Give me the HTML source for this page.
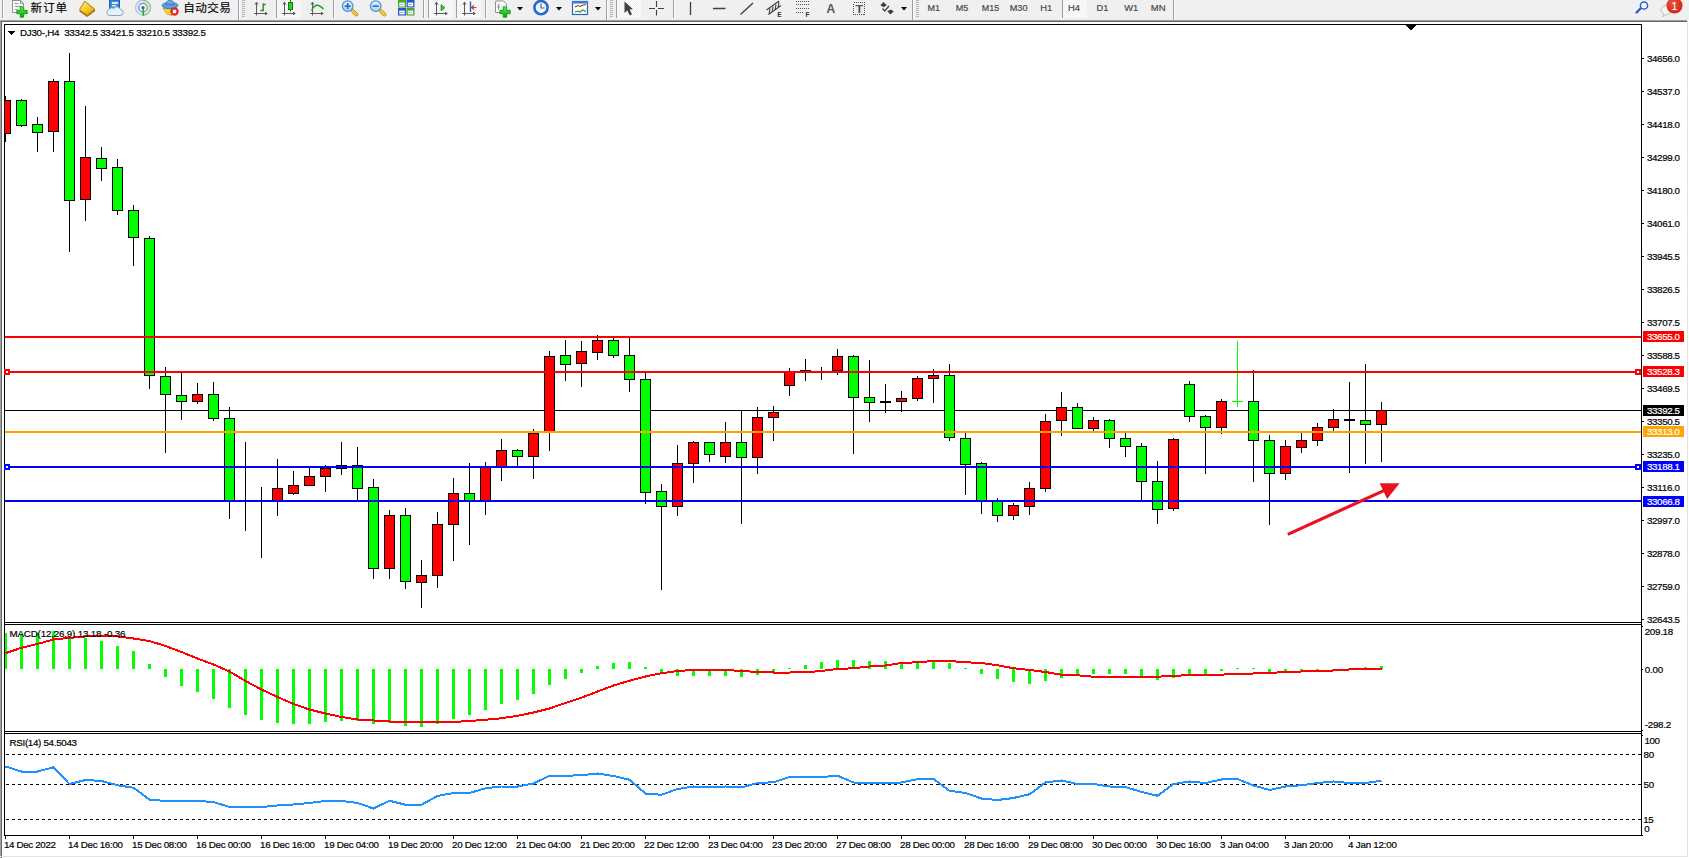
<!DOCTYPE html>
<html><head><meta charset="utf-8"><title>DJ30-,H4</title>
<style>
html,body{margin:0;padding:0;background:#fff;overflow:hidden}
svg{display:block;font-family:"Liberation Sans","Noto Sans CJK SC",sans-serif}
text{white-space:pre}
</style></head><body>
<svg width="1689" height="858" viewBox="0 0 1689 858">
<rect width="1689" height="858" fill="#fff"/>
<rect width="1689" height="20" fill="#F0F0F0"/>
<g id="toolbar">
<defs>
<pattern id="chk" width="2" height="2" patternUnits="userSpaceOnUse"><rect width="2" height="2" fill="#F0F0F0"/><rect width="1" height="1" fill="#fff"/><rect x="1" y="1" width="1" height="1" fill="#fff"/></pattern>
<linearGradient id="gplus" x1="0" y1="0" x2="0" y2="1"><stop offset="0" stop-color="#5CF05C"/><stop offset="1" stop-color="#00A800"/></linearGradient>
<linearGradient id="gold" x1="0" y1="0" x2="1" y2="1"><stop offset="0" stop-color="#FFF090"/><stop offset="0.55" stop-color="#F4C820"/><stop offset="1" stop-color="#D09000"/></linearGradient>
<radialGradient id="redb" cx="0.4" cy="0.35" r="0.8"><stop offset="0" stop-color="#F0503C"/><stop offset="1" stop-color="#C81E14"/></radialGradient>
<linearGradient id="lens" x1="0" y1="0" x2="0" y2="1"><stop offset="0" stop-color="#E8F4FF"/><stop offset="1" stop-color="#A8D0F4"/></linearGradient>
</defs>
<!-- left separator -->
<rect x="2" y="0" width="1" height="18" fill="#A0A0A0"/><rect x="3" y="0" width="1" height="18" fill="#FBFBFB"/>
<!-- new order -->
<path d="M12.5 0V12.5H20M23.5 6V3.5L20.5 0.5H12.5M20.5 0.5V3.5H23.5" fill="#fff" stroke="#909090"/>
<path d="M14.5 3.5h4M14.5 6.5h6M14.5 9.5h3" stroke="#A0A0A0"/>
<path d="M20.3 6.8h3.4v3.5h3.5v3.4h-3.5v3.5h-3.4v-3.5h-3.5v-3.4h3.5z" fill="url(#gplus)" stroke="#009000" stroke-width="0.8"/>
<text x="30.6" y="11.6" font-size="11.6" fill="#000" stroke="#000" stroke-width="0.15" textLength="36.5" lengthAdjust="spacing">新订单</text>
<!-- gold book -->
<path d="M79.5 9.8C81 7 83 4 84.8 1.3L95 9.4L87.2 15.2z" fill="url(#gold)" stroke="#B07800" stroke-width="1"/>
<path d="M79.6 10.8L87 16.3L95 10.6" fill="none" stroke="#A86E00" stroke-width="1.2"/>
<!-- server + cloud -->
<rect x="109.500" y="0" width="10" height="9" fill="#3C8CE0" stroke="#1C5CB0"/>
<rect x="112" y="2" width="6" height="2" fill="#D8ECFF"/><rect x="112" y="5" width="4" height="1.500" fill="#D8ECFF"/>
<path d="M109 15.500h11a3 3 0 0 0 0.500-6a4 4 0 0 0-7-1a3 3 0 0 0-4.500 1a3.200 3.200 0 0 0 0 6z" fill="#E8F0FA" stroke="#7C9CC8" stroke-width="0.9"/>
<!-- signal -->
<path d="M143 0.3A7.4 7.4 0 0 0 143 15.100" fill="none" stroke="#A8C0E8" stroke-width="1.200"/>
<path d="M143 3.300A4.400 4.400 0 0 0 143 12.100" fill="none" stroke="#6C90D8" stroke-width="1.300"/>
<path d="M143 0.3A7.4 7.4 0 0 1 143 15.100" fill="none" stroke="#90C098" stroke-width="1.400"/>
<path d="M143 3.300A4.400 4.400 0 0 1 143 12.100" fill="none" stroke="#78B080" stroke-width="1.400"/>
<path d="M143.300 7.500V15.600" fill="none" stroke="#28A828" stroke-width="1.700"/>
<circle cx="143" cy="7.500" r="1.600" fill="#3060D0"/>
<!-- expert hat -->
<path d="M163 8.500L167 14L171.500 15.500L177 9z" fill="#F4D048" stroke="#C09820" stroke-width="0.8"/>
<ellipse cx="170" cy="5.500" rx="8" ry="3.200" fill="#5C9CE0" stroke="#3870B8" stroke-width="0.8"/>
<path d="M166 4.500a4 4.500 0 0 1 8 0z" fill="#6CA8E8" stroke="#3870B8" stroke-width="0.8"/>
<circle cx="174.500" cy="11.500" r="4.200" fill="#E02818"/>
<rect x="172.800" y="9.800" width="3.400" height="3.400" fill="#fff"/>
<text x="183.3" y="11.6" font-size="11.6" fill="#000" stroke="#000" stroke-width="0.15" textLength="47.5" lengthAdjust="spacing">自动交易</text>
<!-- separator + grip -->
<g shape-rendering="crispEdges">
<rect x="238" y="0" width="1" height="20" fill="#A0A0A0"/><rect x="239" y="0" width="1" height="20" fill="#FBFBFB"/>
<path d="M242 0.500h3M242 2.500h3M242 4.500h3M242 6.500h3M242 8.500h3M242 10.500h3M242 12.500h3M242 14.500h3M242 16.500h3" stroke="#B4B4B4"/>
<rect x="276" y="0" width="1" height="18" fill="#A0A0A0"/>
<rect x="277" y="0" width="24" height="18" fill="url(#chk)"/>
<rect x="333" y="0" width="1" height="18" fill="#A0A0A0"/><rect x="334" y="0" width="1" height="18" fill="#FBFBFB"/>
<rect x="423" y="0" width="1" height="18" fill="#A0A0A0"/><rect x="424" y="0" width="1" height="18" fill="#FBFBFB"/>
<rect x="428" y="0" width="1" height="18" fill="#A0A0A0"/><rect x="429" y="0" width="24" height="18" fill="url(#chk)"/>
<rect x="456" y="0" width="1" height="18" fill="#A0A0A0"/><rect x="457" y="0" width="24" height="18" fill="url(#chk)"/>
<rect x="485" y="0" width="1" height="18" fill="#A0A0A0"/><rect x="486" y="0" width="1" height="18" fill="#FBFBFB"/>
<rect x="606" y="0" width="1" height="20" fill="#A0A0A0"/><rect x="607" y="0" width="1" height="20" fill="#FBFBFB"/>
<path d="M610 0.500h3M610 2.500h3M610 4.500h3M610 6.500h3M610 8.500h3M610 10.500h3M610 12.500h3M610 14.500h3M610 16.500h3" stroke="#B4B4B4"/>
<rect x="616" y="0" width="1" height="18" fill="#A0A0A0"/><rect x="617" y="0" width="24" height="18" fill="url(#chk)"/>
<rect x="673" y="0" width="1" height="18" fill="#A0A0A0"/><rect x="674" y="0" width="1" height="18" fill="#FBFBFB"/>
<rect x="912" y="0" width="1" height="20" fill="#A0A0A0"/><rect x="913" y="0" width="1" height="20" fill="#FBFBFB"/>
<path d="M916 0.500h3M916 2.500h3M916 4.500h3M916 6.500h3M916 8.500h3M916 10.500h3M916 12.500h3M916 14.500h3M916 16.500h3" stroke="#B4B4B4"/>
<rect x="1062" y="0" width="1" height="18" fill="#A0A0A0"/><rect x="1063" y="0" width="24" height="18" fill="url(#chk)"/>
<rect x="1173" y="0" width="1" height="20" fill="#A0A0A0"/><rect x="1174" y="0" width="1" height="20" fill="#FBFBFB"/>
</g>
<!-- chart type icons: axes -->
<g stroke="#5A5A5A" stroke-width="1" fill="none">
<path d="M256.5 2V15.5M254 13.5H267M255 4.6L256.5 2.2L258 4.6M265 12.2L267.3 13.5L265 14.8"/>
<path d="M284.5 2V15.5M282 13.5H295M283 4.6L284.5 2.2L286 4.6M293 12.2L295.3 13.5L293 14.8"/>
<path d="M312.5 2V15.5M310 13.5H323M311 4.6L312.5 2.2L314 4.6M321 12.2L323.3 13.5L321 14.8"/>
<path d="M436.5 2V15.5M434 13.5H447M435 4.6L436.5 2.2L438 4.6M445 12.2L447.3 13.5L445 14.8"/>
<path d="M464.5 2V15.5M462 13.5H475M463 4.6L464.5 2.2L466 4.6M473 12.2L475.3 13.5L473 14.8"/>
</g>
<path d="M260.500 10.500h2.500M263.200 3.300v8M263 4.500h2.700" fill="none" stroke="#209020" stroke-width="1.400"/>
<rect x="288.500" y="2.500" width="4" height="7" fill="#30D030" stroke="#108010"/><path d="M290.500 0V2.500M290.500 9.500V11.500" stroke="#108010"/>
<path d="M311.500 10.500C315 4 318 3.500 323.500 9" fill="none" stroke="#20A020" stroke-width="1.400"/>
<path d="M441 4.500l4 3.200l-4 3.200z" fill="#30C030" stroke="#108010" stroke-width="0.600"/>
<path d="M470.500 1.500V12" stroke="#2060C0" stroke-width="1.400"/><path d="M476.500 7.500h-4.500M474 5.500l-2.500 2l2.500 2" stroke="#D04010" stroke-width="1.200" fill="none"/>
<!-- zoom in/out -->
<path d="M352.300 10.600L356.600 14.600" stroke="#B08818" stroke-width="3.600" stroke-linecap="round"/>
<path d="M352.300 10.600L356.600 14.600" stroke="#F0D040" stroke-width="2.200" stroke-linecap="round"/>
<circle cx="347.700" cy="6.100" r="5.300" fill="url(#lens)" stroke="#4C90D8" stroke-width="1.300"/>
<path d="M344.700 6.100h6M347.700 3.100v6" stroke="#2C6CC0" stroke-width="1.600"/>
<path d="M380.300 10.600L384.600 14.600" stroke="#B08818" stroke-width="3.600" stroke-linecap="round"/>
<path d="M380.300 10.600L384.600 14.600" stroke="#F0D040" stroke-width="2.200" stroke-linecap="round"/>
<circle cx="375.700" cy="6.100" r="5.300" fill="url(#lens)" stroke="#4C90D8" stroke-width="1.300"/>
<path d="M372.700 6.100h6" stroke="#2C6CC0" stroke-width="1.600"/>
<!-- tile icon -->
<rect x="398" y="0" width="8" height="7.500" fill="#48A828"/><rect x="406.500" y="0" width="8" height="7.500" fill="#2858C8"/>
<rect x="398" y="8" width="8" height="7.500" fill="#2858C8"/><rect x="406.500" y="8" width="8" height="7.500" fill="#48A828"/>
<g fill="#fff"><rect x="399.300" y="2.600" width="5.400" height="3.800"/><rect x="407.800" y="2.600" width="5.400" height="3.800"/><rect x="399.300" y="10.600" width="5.400" height="3.800"/><rect x="407.800" y="10.600" width="5.400" height="3.800"/></g><g fill="#8CB8E8"><rect x="400.300" y="4" width="3.400" height="1"/><rect x="408.800" y="4" width="3.400" height="1"/><rect x="400.300" y="12" width="3.400" height="1"/><rect x="408.800" y="12" width="3.400" height="1"/></g>
<!-- new chart w/ plus -->
<path d="M495.500 1.500V12.500H503M506.500 6V4L503.500 1H495.500" fill="#fff" stroke="#909090"/>
<path d="M498.500 4v6M497 7h3" stroke="#808080" stroke-width="0.800"/>
<path d="M503.3 6.8h3.4v3.5h3.5v3.4h-3.5v3.5h-3.4v-3.5h-3.5v-3.4h3.5z" fill="url(#gplus)" stroke="#009000" stroke-width="0.8"/>
<path d="M517 7h6l-3 3.500z" fill="#000"/>
<!-- clock -->
<circle cx="541" cy="7.600" r="6.600" fill="#EEF4FF" stroke="#2468D0" stroke-width="2.600"/>
<path d="M541 3.500V8H544.500" fill="none" stroke="#606060" stroke-width="1.200"/>
<path d="M556 7h6l-3 3.500z" fill="#000"/>
<!-- template -->
<rect x="572.500" y="1.500" width="15" height="13" fill="#fff" stroke="#2C64C0" stroke-width="1.200"/>
<rect x="572" y="1" width="16" height="2.500" fill="#3C78D8"/>
<path d="M575 7l3-1.500l2 1l3-1.500l3-0.500" fill="none" stroke="#B03818" stroke-width="1.100"/>
<path d="M575 12l3-1l2 1l3-2l3 1.500" fill="none" stroke="#209820" stroke-width="1.100"/>
<path d="M595 7h6l-3 3.500z" fill="#000"/>
<!-- cursor -->
<path d="M624.500 1.500V13L627.300 10.500L629.800 15.500L632 14.300L629.600 9.500L633 9.200z" fill="#404040"/>
<!-- crosshair -->
<path d="M656.500 1V7M656.500 10V15.500M649 8.500H655M658 8.500H664" stroke="#404040" stroke-width="1.100" fill="none"/>
<!-- lines -->
<path d="M690.500 2V15M713 8.500H725.500M740.500 14.500L753 3" stroke="#404040" stroke-width="1.300" fill="none"/>
<!-- channel -->
<path d="M766.500 10L779 1M768.500 14.500L781 5.500M770 8.500l-1 5.500M773 6.500l-1 5.500M776 4.500l-1 5.500M779 2l-1 5.500" stroke="#404040" stroke-width="1.100" fill="none"/>
<text x="777.300" y="16.600" font-size="6.500" font-weight="bold" fill="#303030">E</text>
<!-- fibo -->
<path d="M796 1.500H809M796 4.500H809M796 8.500H809M796 12.500H804" stroke="#505050" stroke-width="1" stroke-dasharray="1 1" fill="none"/>
<text x="805.500" y="16.600" font-size="6.500" font-weight="bold" fill="#303030">F</text>
<!-- A -->
<text x="826.600" y="13" font-size="12" font-weight="bold" fill="#555">A</text>
<!-- T box -->
<rect x="853.500" y="2.500" width="11" height="12" fill="none" stroke="#505050" stroke-width="1" stroke-dasharray="1 1" shape-rendering="crispEdges"/>
<text x="855.400" y="12.600" font-size="11" font-weight="bold" fill="#555" textLength="7.6" lengthAdjust="spacingAndGlyphs">T</text>
<!-- arrows -->
<path d="M880.300 5.300l3.300-3.300l3.300 3.300l-3.300 1.900zM887.200 11.300l3.300-1.900l3.300 1.900l-3.300 3.300z" fill="#404040"/>
<path d="M882.500 8.500l2.200 2.500l4.300-5" fill="none" stroke="#404040" stroke-width="1.300"/>
<path d="M901 7h6l-3 3.500z" fill="#000"/>
<!-- timeframes -->
<g font-size="9.800" fill="#484848" stroke="#484848" stroke-width="0.2">
<text x="927.500" y="11.300" textLength="12.500" lengthAdjust="spacingAndGlyphs">M1</text>
<text x="955.700" y="11.300" textLength="12.500" lengthAdjust="spacingAndGlyphs">M5</text>
<text x="981.700" y="11.300" textLength="17.500" lengthAdjust="spacingAndGlyphs">M15</text>
<text x="1009.700" y="11.300" textLength="17.800" lengthAdjust="spacingAndGlyphs">M30</text>
<text x="1040.300" y="11.300" textLength="12" lengthAdjust="spacingAndGlyphs">H1</text>
<text x="1068" y="11.300" textLength="12" lengthAdjust="spacingAndGlyphs">H4</text>
<text x="1096.600" y="11.300" textLength="11.800" lengthAdjust="spacingAndGlyphs">D1</text>
<text x="1124.200" y="11.300" textLength="14" lengthAdjust="spacingAndGlyphs">W1</text>
<text x="1150.800" y="11.300" textLength="14.800" lengthAdjust="spacingAndGlyphs">MN</text>
</g>
<!-- search -->
<path d="M1636.500 12.500L1641 8" stroke="#2860D0" stroke-width="2.400" stroke-linecap="round"/>
<circle cx="1644" cy="5.500" r="3.600" fill="#F8FCFF" stroke="#2860D0" stroke-width="1.500"/>
<!-- chat bubble + badge -->
<path d="M1661 10a5.500 4.500 0 0 1 11 0a5.500 4.500 0 0 1-6 4.400l-3 2.400l0.600-3.200a5 4.500 0 0 1-2.600-3.600z" fill="#F4F4F4" stroke="#B8B8B8" stroke-width="0.900"/>
<circle cx="1674.500" cy="5.500" r="8" fill="url(#redb)"/>
<text x="1674.400" y="10" font-size="11.500" fill="#fff" text-anchor="middle">1</text>
</g>

<g shape-rendering="crispEdges">
<rect x="0" y="20" width="1688" height="1" fill="#A0A0A0"/>
<rect x="1" y="21" width="1687" height="1" fill="#696969"/>
<rect x="0" y="20" width="1" height="838" fill="#A0A0A0"/>
<rect x="1" y="21" width="1" height="837" fill="#696969"/>
<rect x="1687" y="20" width="1" height="837" fill="#E3E3E3"/>
<rect x="0" y="856" width="1688" height="1" fill="#E3E3E3"/>
<rect x="4" y="24" width="1" height="812" fill="#000"/>
<rect x="1641" y="24" width="1" height="812" fill="#000"/>
<rect x="4" y="24" width="1638" height="1" fill="#000"/>
<rect x="4" y="622" width="1638" height="1" fill="#000"/>
<rect x="4" y="624" width="1638" height="1" fill="#000"/>
<rect x="4" y="731" width="1638" height="1" fill="#000"/>
<rect x="4" y="733" width="1638" height="1" fill="#000"/>
<rect x="4" y="835" width="1639" height="1" fill="#000"/>
<rect x="5" y="623" width="1636" height="1" fill="#fff"/>
<rect x="5" y="732" width="1636" height="1" fill="#fff"/>
<rect x="5" y="410" width="1636" height="1" fill="#000"/>
<rect x="5" y="96" width="1" height="46" fill="#000"/>
<rect x="5" y="100" width="6" height="34" fill="#000"/>
<rect x="5" y="101" width="5" height="32" fill="#FF0000"/>
<rect x="21" y="99" width="1" height="28" fill="#000"/>
<rect x="16" y="100" width="11" height="26" fill="#000"/>
<rect x="17" y="101" width="9" height="24" fill="#00FF00"/>
<rect x="37" y="117" width="1" height="35" fill="#000"/>
<rect x="32" y="124" width="11" height="9" fill="#000"/>
<rect x="33" y="125" width="9" height="7" fill="#00FF00"/>
<rect x="53" y="79" width="1" height="73" fill="#000"/>
<rect x="48" y="81" width="11" height="51" fill="#000"/>
<rect x="49" y="82" width="9" height="49" fill="#FF0000"/>
<rect x="69" y="53" width="1" height="199" fill="#000"/>
<rect x="64" y="81" width="11" height="120" fill="#000"/>
<rect x="65" y="82" width="9" height="118" fill="#00FF00"/>
<rect x="85" y="106" width="1" height="115" fill="#000"/>
<rect x="80" y="157" width="11" height="43" fill="#000"/>
<rect x="81" y="158" width="9" height="41" fill="#FF0000"/>
<rect x="101" y="147" width="1" height="34" fill="#000"/>
<rect x="96" y="158" width="11" height="11" fill="#000"/>
<rect x="97" y="159" width="9" height="9" fill="#00FF00"/>
<rect x="117" y="159" width="1" height="56" fill="#000"/>
<rect x="112" y="167" width="11" height="44" fill="#000"/>
<rect x="113" y="168" width="9" height="42" fill="#00FF00"/>
<rect x="133" y="205" width="1" height="61" fill="#000"/>
<rect x="128" y="210" width="11" height="28" fill="#000"/>
<rect x="129" y="211" width="9" height="26" fill="#00FF00"/>
<rect x="149" y="236" width="1" height="153" fill="#000"/>
<rect x="144" y="238" width="11" height="138" fill="#000"/>
<rect x="145" y="239" width="9" height="136" fill="#00FF00"/>
<rect x="165" y="367" width="1" height="86" fill="#000"/>
<rect x="160" y="376" width="11" height="19" fill="#000"/>
<rect x="161" y="377" width="9" height="17" fill="#00FF00"/>
<rect x="181" y="373" width="1" height="47" fill="#000"/>
<rect x="176" y="395" width="11" height="7" fill="#000"/>
<rect x="177" y="396" width="9" height="5" fill="#00FF00"/>
<rect x="197" y="383" width="1" height="21" fill="#000"/>
<rect x="192" y="394" width="11" height="8" fill="#000"/>
<rect x="193" y="395" width="9" height="6" fill="#FF0000"/>
<rect x="213" y="382" width="1" height="39" fill="#000"/>
<rect x="208" y="394" width="11" height="25" fill="#000"/>
<rect x="209" y="395" width="9" height="23" fill="#00FF00"/>
<rect x="229" y="407" width="1" height="112" fill="#000"/>
<rect x="224" y="418" width="11" height="83" fill="#000"/>
<rect x="225" y="419" width="9" height="81" fill="#00FF00"/>
<rect x="245" y="442" width="1" height="89" fill="#000"/>
<rect x="261" y="487" width="1" height="71" fill="#000"/>
<rect x="277" y="459" width="1" height="57" fill="#000"/>
<rect x="272" y="488" width="11" height="13" fill="#000"/>
<rect x="273" y="489" width="9" height="11" fill="#FF0000"/>
<rect x="293" y="471" width="1" height="24" fill="#000"/>
<rect x="288" y="485" width="11" height="9" fill="#000"/>
<rect x="289" y="486" width="9" height="7" fill="#FF0000"/>
<rect x="309" y="468" width="1" height="18" fill="#000"/>
<rect x="304" y="476" width="11" height="10" fill="#000"/>
<rect x="305" y="477" width="9" height="8" fill="#FF0000"/>
<rect x="325" y="465" width="1" height="27" fill="#000"/>
<rect x="320" y="468" width="11" height="9" fill="#000"/>
<rect x="321" y="469" width="9" height="7" fill="#FF0000"/>
<rect x="341" y="442" width="1" height="33" fill="#000"/>
<rect x="336" y="465" width="11" height="4" fill="#000"/>
<rect x="357" y="447" width="1" height="53" fill="#000"/>
<rect x="352" y="465" width="11" height="24" fill="#000"/>
<rect x="353" y="466" width="9" height="22" fill="#00FF00"/>
<rect x="373" y="479" width="1" height="100" fill="#000"/>
<rect x="368" y="487" width="11" height="82" fill="#000"/>
<rect x="369" y="488" width="9" height="80" fill="#00FF00"/>
<rect x="389" y="510" width="1" height="69" fill="#000"/>
<rect x="384" y="515" width="11" height="54" fill="#000"/>
<rect x="385" y="516" width="9" height="52" fill="#FF0000"/>
<rect x="405" y="508" width="1" height="81" fill="#000"/>
<rect x="400" y="515" width="11" height="67" fill="#000"/>
<rect x="401" y="516" width="9" height="65" fill="#00FF00"/>
<rect x="421" y="560" width="1" height="48" fill="#000"/>
<rect x="416" y="575" width="11" height="8" fill="#000"/>
<rect x="417" y="576" width="9" height="6" fill="#FF0000"/>
<rect x="437" y="512" width="1" height="76" fill="#000"/>
<rect x="432" y="524" width="11" height="52" fill="#000"/>
<rect x="433" y="525" width="9" height="50" fill="#FF0000"/>
<rect x="453" y="478" width="1" height="83" fill="#000"/>
<rect x="448" y="493" width="11" height="32" fill="#000"/>
<rect x="449" y="494" width="9" height="30" fill="#FF0000"/>
<rect x="469" y="463" width="1" height="82" fill="#000"/>
<rect x="464" y="493" width="11" height="8" fill="#000"/>
<rect x="465" y="494" width="9" height="6" fill="#00FF00"/>
<rect x="485" y="462" width="1" height="53" fill="#000"/>
<rect x="480" y="466" width="11" height="35" fill="#000"/>
<rect x="481" y="467" width="9" height="33" fill="#FF0000"/>
<rect x="501" y="439" width="1" height="42" fill="#000"/>
<rect x="496" y="450" width="11" height="17" fill="#000"/>
<rect x="497" y="451" width="9" height="15" fill="#FF0000"/>
<rect x="517" y="449" width="1" height="17" fill="#000"/>
<rect x="512" y="450" width="11" height="7" fill="#000"/>
<rect x="513" y="451" width="9" height="5" fill="#00FF00"/>
<rect x="533" y="429" width="1" height="50" fill="#000"/>
<rect x="528" y="433" width="11" height="24" fill="#000"/>
<rect x="529" y="434" width="9" height="22" fill="#FF0000"/>
<rect x="549" y="351" width="1" height="100" fill="#000"/>
<rect x="544" y="356" width="11" height="76" fill="#000"/>
<rect x="545" y="357" width="9" height="74" fill="#FF0000"/>
<rect x="565" y="340" width="1" height="41" fill="#000"/>
<rect x="560" y="355" width="11" height="10" fill="#000"/>
<rect x="561" y="356" width="9" height="8" fill="#00FF00"/>
<rect x="581" y="341" width="1" height="46" fill="#000"/>
<rect x="576" y="351" width="11" height="13" fill="#000"/>
<rect x="577" y="352" width="9" height="11" fill="#FF0000"/>
<rect x="597" y="335" width="1" height="25" fill="#000"/>
<rect x="592" y="340" width="11" height="13" fill="#000"/>
<rect x="593" y="341" width="9" height="11" fill="#FF0000"/>
<rect x="613" y="337" width="1" height="21" fill="#000"/>
<rect x="608" y="340" width="11" height="16" fill="#000"/>
<rect x="609" y="341" width="9" height="14" fill="#00FF00"/>
<rect x="629" y="338" width="1" height="54" fill="#000"/>
<rect x="624" y="355" width="11" height="25" fill="#000"/>
<rect x="625" y="356" width="9" height="23" fill="#00FF00"/>
<rect x="645" y="373" width="1" height="131" fill="#000"/>
<rect x="640" y="379" width="11" height="114" fill="#000"/>
<rect x="641" y="380" width="9" height="112" fill="#00FF00"/>
<rect x="661" y="484" width="1" height="106" fill="#000"/>
<rect x="656" y="491" width="11" height="16" fill="#000"/>
<rect x="657" y="492" width="9" height="14" fill="#00FF00"/>
<rect x="677" y="445" width="1" height="71" fill="#000"/>
<rect x="672" y="463" width="11" height="44" fill="#000"/>
<rect x="673" y="464" width="9" height="42" fill="#FF0000"/>
<rect x="693" y="441" width="1" height="42" fill="#000"/>
<rect x="688" y="442" width="11" height="22" fill="#000"/>
<rect x="689" y="443" width="9" height="20" fill="#FF0000"/>
<rect x="709" y="442" width="1" height="20" fill="#000"/>
<rect x="704" y="442" width="11" height="13" fill="#000"/>
<rect x="705" y="443" width="9" height="11" fill="#00FF00"/>
<rect x="725" y="422" width="1" height="41" fill="#000"/>
<rect x="720" y="442" width="11" height="15" fill="#000"/>
<rect x="721" y="443" width="9" height="13" fill="#FF0000"/>
<rect x="741" y="410" width="1" height="114" fill="#000"/>
<rect x="736" y="442" width="11" height="16" fill="#000"/>
<rect x="737" y="443" width="9" height="14" fill="#00FF00"/>
<rect x="757" y="407" width="1" height="67" fill="#000"/>
<rect x="752" y="417" width="11" height="41" fill="#000"/>
<rect x="753" y="418" width="9" height="39" fill="#FF0000"/>
<rect x="773" y="406" width="1" height="35" fill="#000"/>
<rect x="768" y="412" width="11" height="6" fill="#000"/>
<rect x="769" y="413" width="9" height="4" fill="#FF0000"/>
<rect x="789" y="368" width="1" height="28" fill="#000"/>
<rect x="784" y="372" width="11" height="14" fill="#000"/>
<rect x="785" y="373" width="9" height="12" fill="#FF0000"/>
<rect x="805" y="359" width="1" height="22" fill="#000"/>
<rect x="800" y="370" width="11" height="1" fill="#000"/>
<rect x="821" y="367" width="1" height="13" fill="#000"/>
<rect x="837" y="349" width="1" height="26" fill="#000"/>
<rect x="832" y="356" width="11" height="15" fill="#000"/>
<rect x="833" y="357" width="9" height="13" fill="#FF0000"/>
<rect x="853" y="355" width="1" height="99" fill="#000"/>
<rect x="848" y="356" width="11" height="42" fill="#000"/>
<rect x="849" y="357" width="9" height="40" fill="#00FF00"/>
<rect x="869" y="360" width="1" height="62" fill="#000"/>
<rect x="864" y="397" width="11" height="6" fill="#000"/>
<rect x="865" y="398" width="9" height="4" fill="#00FF00"/>
<rect x="885" y="384" width="1" height="29" fill="#000"/>
<rect x="880" y="401" width="11" height="2" fill="#000"/>
<rect x="901" y="391" width="1" height="21" fill="#000"/>
<rect x="896" y="398" width="11" height="4" fill="#000"/>
<rect x="897" y="399" width="9" height="2" fill="#FF0000"/>
<rect x="917" y="376" width="1" height="25" fill="#000"/>
<rect x="912" y="378" width="11" height="21" fill="#000"/>
<rect x="913" y="379" width="9" height="19" fill="#FF0000"/>
<rect x="933" y="369" width="1" height="34" fill="#000"/>
<rect x="928" y="375" width="11" height="4" fill="#000"/>
<rect x="929" y="376" width="9" height="2" fill="#FF0000"/>
<rect x="949" y="364" width="1" height="77" fill="#000"/>
<rect x="944" y="375" width="11" height="63" fill="#000"/>
<rect x="945" y="376" width="9" height="61" fill="#00FF00"/>
<rect x="965" y="433" width="1" height="62" fill="#000"/>
<rect x="960" y="438" width="11" height="27" fill="#000"/>
<rect x="961" y="439" width="9" height="25" fill="#00FF00"/>
<rect x="981" y="462" width="1" height="52" fill="#000"/>
<rect x="976" y="463" width="11" height="38" fill="#000"/>
<rect x="977" y="464" width="9" height="36" fill="#00FF00"/>
<rect x="997" y="498" width="1" height="24" fill="#000"/>
<rect x="992" y="500" width="11" height="16" fill="#000"/>
<rect x="993" y="501" width="9" height="14" fill="#00FF00"/>
<rect x="1013" y="503" width="1" height="17" fill="#000"/>
<rect x="1008" y="505" width="11" height="11" fill="#000"/>
<rect x="1009" y="506" width="9" height="9" fill="#FF0000"/>
<rect x="1029" y="482" width="1" height="33" fill="#000"/>
<rect x="1024" y="488" width="11" height="19" fill="#000"/>
<rect x="1025" y="489" width="9" height="17" fill="#FF0000"/>
<rect x="1045" y="414" width="1" height="78" fill="#000"/>
<rect x="1040" y="421" width="11" height="68" fill="#000"/>
<rect x="1041" y="422" width="9" height="66" fill="#FF0000"/>
<rect x="1061" y="392" width="1" height="44" fill="#000"/>
<rect x="1056" y="407" width="11" height="14" fill="#000"/>
<rect x="1057" y="408" width="9" height="12" fill="#FF0000"/>
<rect x="1077" y="403" width="1" height="26" fill="#000"/>
<rect x="1072" y="407" width="11" height="22" fill="#000"/>
<rect x="1073" y="408" width="9" height="20" fill="#00FF00"/>
<rect x="1093" y="417" width="1" height="14" fill="#000"/>
<rect x="1088" y="420" width="11" height="9" fill="#000"/>
<rect x="1089" y="421" width="9" height="7" fill="#FF0000"/>
<rect x="1109" y="419" width="1" height="29" fill="#000"/>
<rect x="1104" y="420" width="11" height="19" fill="#000"/>
<rect x="1105" y="421" width="9" height="17" fill="#00FF00"/>
<rect x="1125" y="433" width="1" height="24" fill="#000"/>
<rect x="1120" y="438" width="11" height="9" fill="#000"/>
<rect x="1121" y="439" width="9" height="7" fill="#00FF00"/>
<rect x="1141" y="443" width="1" height="57" fill="#000"/>
<rect x="1136" y="446" width="11" height="36" fill="#000"/>
<rect x="1137" y="447" width="9" height="34" fill="#00FF00"/>
<rect x="1157" y="461" width="1" height="63" fill="#000"/>
<rect x="1152" y="481" width="11" height="29" fill="#000"/>
<rect x="1153" y="482" width="9" height="27" fill="#00FF00"/>
<rect x="1173" y="438" width="1" height="73" fill="#000"/>
<rect x="1168" y="439" width="11" height="70" fill="#000"/>
<rect x="1169" y="440" width="9" height="68" fill="#FF0000"/>
<rect x="1189" y="381" width="1" height="41" fill="#000"/>
<rect x="1184" y="384" width="11" height="33" fill="#000"/>
<rect x="1185" y="385" width="9" height="31" fill="#00FF00"/>
<rect x="1205" y="415" width="1" height="59" fill="#000"/>
<rect x="1200" y="416" width="11" height="12" fill="#000"/>
<rect x="1201" y="417" width="9" height="10" fill="#00FF00"/>
<rect x="1221" y="399" width="1" height="35" fill="#000"/>
<rect x="1216" y="401" width="11" height="27" fill="#000"/>
<rect x="1217" y="402" width="9" height="25" fill="#FF0000"/>
<rect x="1237" y="341" width="1" height="66" fill="#00FF00"/>
<rect x="1232" y="401" width="11" height="1" fill="#00FF00"/>
<rect x="1253" y="370" width="1" height="112" fill="#000"/>
<rect x="1248" y="401" width="11" height="40" fill="#000"/>
<rect x="1249" y="402" width="9" height="38" fill="#00FF00"/>
<rect x="1269" y="435" width="1" height="90" fill="#000"/>
<rect x="1264" y="440" width="11" height="34" fill="#000"/>
<rect x="1265" y="441" width="9" height="32" fill="#00FF00"/>
<rect x="1285" y="440" width="1" height="40" fill="#000"/>
<rect x="1280" y="446" width="11" height="28" fill="#000"/>
<rect x="1281" y="447" width="9" height="26" fill="#FF0000"/>
<rect x="1301" y="433" width="1" height="20" fill="#000"/>
<rect x="1296" y="440" width="11" height="8" fill="#000"/>
<rect x="1297" y="441" width="9" height="6" fill="#FF0000"/>
<rect x="1317" y="423" width="1" height="23" fill="#000"/>
<rect x="1312" y="427" width="11" height="14" fill="#000"/>
<rect x="1313" y="428" width="9" height="12" fill="#FF0000"/>
<rect x="1333" y="409" width="1" height="22" fill="#000"/>
<rect x="1328" y="419" width="11" height="9" fill="#000"/>
<rect x="1329" y="420" width="9" height="7" fill="#FF0000"/>
<rect x="1349" y="382" width="1" height="91" fill="#000"/>
<rect x="1344" y="419" width="11" height="2" fill="#000"/>
<rect x="1365" y="364" width="1" height="100" fill="#000"/>
<rect x="1360" y="420" width="11" height="5" fill="#000"/>
<rect x="1361" y="421" width="9" height="3" fill="#00FF00"/>
<rect x="1381" y="402" width="1" height="60" fill="#000"/>
<rect x="1376" y="410" width="11" height="15" fill="#000"/>
<rect x="1377" y="411" width="9" height="13" fill="#FF0000"/>
<rect x="5" y="336" width="1636" height="2" fill="#FF0000"/>
<rect x="5" y="371" width="1636" height="2" fill="#FF0000"/>
<rect x="4" y="369" width="6" height="6" fill="#FF0000"/>
<rect x="6" y="371" width="2" height="2" fill="#fff"/>
<rect x="1635" y="369" width="6" height="6" fill="#FF0000"/>
<rect x="1637" y="371" width="2" height="2" fill="#fff"/>
<rect x="5" y="431" width="1636" height="2" fill="#FFA500"/>
<rect x="5" y="466" width="1636" height="2" fill="#0000FF"/>
<rect x="4" y="464" width="6" height="6" fill="#0000FF"/>
<rect x="6" y="466" width="2" height="2" fill="#fff"/>
<rect x="1635" y="464" width="6" height="6" fill="#0000FF"/>
<rect x="1637" y="466" width="2" height="2" fill="#fff"/>
<rect x="5" y="500" width="1636" height="2" fill="#0000FF"/>
<path d="M1405 25h11l-5.5 5.5z" fill="#000"/>
<path d="M8 31h7l-3.5 4z" fill="#000"/>
<rect x="1642" y="58" width="2" height="1" fill="#000"/>
<rect x="1642" y="91" width="2" height="1" fill="#000"/>
<rect x="1642" y="124" width="2" height="1" fill="#000"/>
<rect x="1642" y="157" width="2" height="1" fill="#000"/>
<rect x="1642" y="190" width="2" height="1" fill="#000"/>
<rect x="1642" y="223" width="2" height="1" fill="#000"/>
<rect x="1642" y="256" width="2" height="1" fill="#000"/>
<rect x="1642" y="289" width="2" height="1" fill="#000"/>
<rect x="1642" y="322" width="2" height="1" fill="#000"/>
<rect x="1642" y="355" width="2" height="1" fill="#000"/>
<rect x="1642" y="388" width="2" height="1" fill="#000"/>
<rect x="1642" y="421" width="2" height="1" fill="#000"/>
<rect x="1642" y="454" width="2" height="1" fill="#000"/>
<rect x="1642" y="487" width="2" height="1" fill="#000"/>
<rect x="1642" y="520" width="2" height="1" fill="#000"/>
<rect x="1642" y="553" width="2" height="1" fill="#000"/>
<rect x="1642" y="586" width="2" height="1" fill="#000"/>
<rect x="1642" y="619" width="2" height="1" fill="#000"/>
<rect x="1642" y="626" width="1" height="1" fill="#000"/>
<rect x="1642" y="669" width="1" height="1" fill="#000"/>
<rect x="1642" y="730" width="1" height="1" fill="#000"/>
<rect x="1642" y="735" width="1" height="1" fill="#000"/>
<rect x="1642" y="835" width="1" height="1" fill="#000"/>
<rect x="1643" y="331" width="41" height="11" fill="#FF0000"/>
<rect x="1643" y="366" width="41" height="11" fill="#FF0000"/>
<rect x="1643" y="405" width="41" height="11" fill="#000"/>
<rect x="1643" y="426" width="41" height="11" fill="#FFA500"/>
<rect x="1643" y="461" width="41" height="11" fill="#0000FF"/>
<rect x="1643" y="496" width="41" height="11" fill="#0000FF"/>
<rect x="5" y="633" width="2" height="36" fill="#00FF00"/>
<rect x="20" y="634" width="3" height="35" fill="#00FF00"/>
<rect x="36" y="633" width="3" height="36" fill="#00FF00"/>
<rect x="52" y="631" width="3" height="38" fill="#00FF00"/>
<rect x="68" y="637" width="3" height="32" fill="#00FF00"/>
<rect x="84" y="638" width="3" height="31" fill="#00FF00"/>
<rect x="100" y="641" width="3" height="28" fill="#00FF00"/>
<rect x="116" y="646" width="3" height="23" fill="#00FF00"/>
<rect x="132" y="651" width="3" height="18" fill="#00FF00"/>
<rect x="148" y="664" width="3" height="5" fill="#00FF00"/>
<rect x="164" y="669" width="3" height="8" fill="#00FF00"/>
<rect x="180" y="669" width="3" height="17" fill="#00FF00"/>
<rect x="196" y="669" width="3" height="23" fill="#00FF00"/>
<rect x="212" y="669" width="3" height="30" fill="#00FF00"/>
<rect x="228" y="669" width="3" height="39" fill="#00FF00"/>
<rect x="244" y="669" width="3" height="46" fill="#00FF00"/>
<rect x="260" y="669" width="3" height="51" fill="#00FF00"/>
<rect x="276" y="669" width="3" height="54" fill="#00FF00"/>
<rect x="292" y="669" width="3" height="55" fill="#00FF00"/>
<rect x="308" y="669" width="3" height="55" fill="#00FF00"/>
<rect x="324" y="669" width="3" height="53" fill="#00FF00"/>
<rect x="340" y="669" width="3" height="52" fill="#00FF00"/>
<rect x="356" y="669" width="3" height="52" fill="#00FF00"/>
<rect x="372" y="669" width="3" height="55" fill="#00FF00"/>
<rect x="388" y="669" width="3" height="54" fill="#00FF00"/>
<rect x="404" y="669" width="3" height="57" fill="#00FF00"/>
<rect x="420" y="669" width="3" height="58" fill="#00FF00"/>
<rect x="436" y="669" width="3" height="55" fill="#00FF00"/>
<rect x="452" y="669" width="3" height="50" fill="#00FF00"/>
<rect x="468" y="669" width="3" height="46" fill="#00FF00"/>
<rect x="484" y="669" width="3" height="41" fill="#00FF00"/>
<rect x="500" y="669" width="3" height="35" fill="#00FF00"/>
<rect x="516" y="669" width="3" height="31" fill="#00FF00"/>
<rect x="532" y="669" width="3" height="25" fill="#00FF00"/>
<rect x="548" y="669" width="3" height="16" fill="#00FF00"/>
<rect x="564" y="669" width="3" height="10" fill="#00FF00"/>
<rect x="580" y="669" width="3" height="4" fill="#00FF00"/>
<rect x="596" y="666" width="3" height="3" fill="#00FF00"/>
<rect x="612" y="663" width="3" height="6" fill="#00FF00"/>
<rect x="628" y="662" width="3" height="7" fill="#00FF00"/>
<rect x="644" y="667" width="3" height="2" fill="#00FF00"/>
<rect x="660" y="669" width="3" height="4" fill="#00FF00"/>
<rect x="676" y="669" width="3" height="7" fill="#00FF00"/>
<rect x="692" y="669" width="3" height="7" fill="#00FF00"/>
<rect x="708" y="669" width="3" height="7" fill="#00FF00"/>
<rect x="724" y="669" width="3" height="7" fill="#00FF00"/>
<rect x="740" y="669" width="3" height="8" fill="#00FF00"/>
<rect x="756" y="669" width="3" height="6" fill="#00FF00"/>
<rect x="772" y="669" width="3" height="3" fill="#00FF00"/>
<rect x="788" y="668" width="3" height="1" fill="#00FF00"/>
<rect x="804" y="665" width="3" height="4" fill="#00FF00"/>
<rect x="820" y="662" width="3" height="7" fill="#00FF00"/>
<rect x="836" y="660" width="3" height="9" fill="#00FF00"/>
<rect x="852" y="660" width="3" height="9" fill="#00FF00"/>
<rect x="868" y="661" width="3" height="8" fill="#00FF00"/>
<rect x="884" y="661" width="3" height="8" fill="#00FF00"/>
<rect x="900" y="662" width="3" height="7" fill="#00FF00"/>
<rect x="916" y="662" width="3" height="7" fill="#00FF00"/>
<rect x="932" y="661" width="3" height="8" fill="#00FF00"/>
<rect x="948" y="663" width="3" height="6" fill="#00FF00"/>
<rect x="964" y="668" width="3" height="1" fill="#00FF00"/>
<rect x="980" y="669" width="3" height="5" fill="#00FF00"/>
<rect x="996" y="669" width="3" height="10" fill="#00FF00"/>
<rect x="1012" y="669" width="3" height="13" fill="#00FF00"/>
<rect x="1028" y="669" width="3" height="15" fill="#00FF00"/>
<rect x="1044" y="669" width="3" height="12" fill="#00FF00"/>
<rect x="1060" y="669" width="3" height="9" fill="#00FF00"/>
<rect x="1076" y="669" width="3" height="6" fill="#00FF00"/>
<rect x="1092" y="669" width="3" height="5" fill="#00FF00"/>
<rect x="1108" y="669" width="3" height="5" fill="#00FF00"/>
<rect x="1124" y="669" width="3" height="5" fill="#00FF00"/>
<rect x="1140" y="669" width="3" height="7" fill="#00FF00"/>
<rect x="1156" y="669" width="3" height="11" fill="#00FF00"/>
<rect x="1172" y="669" width="3" height="9" fill="#00FF00"/>
<rect x="1188" y="669" width="3" height="7" fill="#00FF00"/>
<rect x="1204" y="669" width="3" height="5" fill="#00FF00"/>
<rect x="1220" y="669" width="3" height="2" fill="#00FF00"/>
<rect x="1236" y="668" width="3" height="1" fill="#00FF00"/>
<rect x="1252" y="668" width="3" height="1" fill="#00FF00"/>
<rect x="1268" y="669" width="3" height="3" fill="#00FF00"/>
<rect x="1284" y="669" width="3" height="3" fill="#00FF00"/>
<rect x="1300" y="669" width="3" height="2" fill="#00FF00"/>
<rect x="1316" y="669" width="3" height="2" fill="#00FF00"/>
<rect x="1332" y="669" width="3" height="1" fill="#00FF00"/>
<rect x="1348" y="668" width="3" height="1" fill="#00FF00"/>
<rect x="1364" y="667" width="3" height="2" fill="#00FF00"/>
<rect x="1380" y="666" width="3" height="3" fill="#00FF00"/>
<polyline points="5.5,653.25 21.5,647.75 37.5,644 53.5,639.5 69.5,637.75 85.5,636.5 101.5,636 117.5,636.5 133.5,638.5 149.5,641 165.5,646 181.5,652 197.5,658.5 213.5,664.5 229.5,671.5 245.5,681 261.5,689.5 277.5,697 293.5,704 309.5,709.5 325.5,713.5 341.5,717 357.5,719.5 373.5,720.5 389.5,721.5 405.5,722 421.5,722 437.5,722 453.5,722 469.5,721 485.5,719.75 501.5,718.25 517.5,715.75 533.5,712.5 549.5,708.5 565.5,703 581.5,697.75 597.5,691.5 613.5,685.5 629.5,680.75 645.5,676.5 661.5,673.25 677.5,671 693.5,670 709.5,670 725.5,670 741.5,671 757.5,672 773.5,672.5 789.5,672.5 805.5,672.25 821.5,671 837.5,669 853.5,668.25 869.5,666.5 885.5,665.5 901.5,663 917.5,662.25 933.5,661 949.5,661 965.5,662.25 981.5,663 997.5,665.25 1013.5,668.25 1029.5,670 1045.5,672 1061.5,674.75 1077.5,675.25 1093.5,676.75 1109.5,676.75 1125.5,676.75 1141.5,676.75 1157.5,676.75 1173.5,675.75 1189.5,675.25 1205.5,674.75 1221.5,674.6 1237.5,674 1253.5,673.5 1269.5,672.75 1285.5,672.25 1301.5,671.5 1317.5,671 1333.5,670.5 1349.5,669.5 1365.5,669 1381.5,669" fill="none" stroke="#FF0000" stroke-width="2"/>
<path d="M6 754.5H1641" stroke="#000" stroke-width="1" stroke-dasharray="3 3" fill="none"/>
<path d="M6 784.5H1641" stroke="#000" stroke-width="1" stroke-dasharray="3 3" fill="none"/>
<path d="M6 819.5H1641" stroke="#000" stroke-width="1" stroke-dasharray="3 3" fill="none"/>
<polyline points="5.5,766.5 21.5,771.5 37.5,771.5 53.5,767.25 69.5,784 85.5,780 101.5,781 117.5,785.25 133.5,787.75 149.5,799.5 165.5,801 181.5,801 197.5,801 213.5,802 229.5,807 245.5,807 261.5,807 277.5,805.5 293.5,804.5 309.5,803 325.5,801 341.5,801 357.5,803 373.5,808.5 389.5,800.75 405.5,804.75 421.5,804.75 437.5,796 453.5,793 469.5,793 485.5,788.25 501.5,786.5 517.5,786.5 533.5,783.5 549.5,775.75 565.5,775.75 581.5,775.25 597.5,773.5 613.5,776 629.5,779.75 645.5,793.5 661.5,794.75 677.5,789 693.5,786.5 709.5,787.5 725.5,786.5 741.5,787.5 757.5,783 773.5,782.25 789.5,777 805.5,777 821.5,777 837.5,775.75 853.5,782.5 869.5,783 885.5,783 901.5,782.5 917.5,779.25 933.5,779 949.5,790.75 965.5,793 981.5,798.5 997.5,800 1013.5,798 1029.5,794.25 1045.5,782.5 1061.5,780.5 1077.5,784 1093.5,784 1109.5,786.5 1125.5,787 1141.5,792 1157.5,795.75 1173.5,784 1189.5,781.5 1205.5,783 1221.5,779.5 1237.5,779 1253.5,785.5 1269.5,790 1285.5,786.5 1301.5,785.25 1317.5,783 1333.5,781.5 1349.5,783 1365.5,783 1381.5,780.75" fill="none" stroke="#1E90FF" stroke-width="2"/>
<rect x="5" y="836" width="1" height="3" fill="#000"/>
<rect x="69" y="836" width="1" height="3" fill="#000"/>
<rect x="133" y="836" width="1" height="3" fill="#000"/>
<rect x="197" y="836" width="1" height="3" fill="#000"/>
<rect x="261" y="836" width="1" height="3" fill="#000"/>
<rect x="325" y="836" width="1" height="3" fill="#000"/>
<rect x="389" y="836" width="1" height="3" fill="#000"/>
<rect x="453" y="836" width="1" height="3" fill="#000"/>
<rect x="517" y="836" width="1" height="3" fill="#000"/>
<rect x="581" y="836" width="1" height="3" fill="#000"/>
<rect x="645" y="836" width="1" height="3" fill="#000"/>
<rect x="709" y="836" width="1" height="3" fill="#000"/>
<rect x="773" y="836" width="1" height="3" fill="#000"/>
<rect x="837" y="836" width="1" height="3" fill="#000"/>
<rect x="901" y="836" width="1" height="3" fill="#000"/>
<rect x="965" y="836" width="1" height="3" fill="#000"/>
<rect x="1029" y="836" width="1" height="3" fill="#000"/>
<rect x="1093" y="836" width="1" height="3" fill="#000"/>
<rect x="1157" y="836" width="1" height="3" fill="#000"/>
<rect x="1221" y="836" width="1" height="3" fill="#000"/>
<rect x="1285" y="836" width="1" height="3" fill="#000"/>
<rect x="1349" y="836" width="1" height="3" fill="#000"/>
</g>
<g><line x1="1287.8" y1="534.4" x2="1386" y2="489.6" stroke="#E8131C" stroke-width="3.2"/><path d="M1379.7 483.2L1399.6 483.3L1387.1 499.1z" fill="#E8131C"/></g>
<text x="20" y="35.8" font-size="9.8" fill="#000" stroke="#000" stroke-width="0.2" textLength="186" lengthAdjust="spacing">DJ30-,H4&#160;&#160;33342.5 33421.5 33210.5 33392.5</text>
<text x="9.5" y="637" font-size="9.8" fill="#000" stroke="#000" stroke-width="0.2" textLength="116" lengthAdjust="spacing">MACD(12,26,9) 13.18 -0.36</text>
<text x="9.5" y="746" font-size="9.8" fill="#000" stroke="#000" stroke-width="0.2" textLength="67.5" lengthAdjust="spacing">RSI(14) 54.5043</text>
<text x="1647" y="62" font-size="9.8" fill="#000" stroke="#000" stroke-width="0.2" textLength="33" lengthAdjust="spacing">34656.0</text>
<text x="1647" y="95" font-size="9.8" fill="#000" stroke="#000" stroke-width="0.2" textLength="33" lengthAdjust="spacing">34537.0</text>
<text x="1647" y="128" font-size="9.8" fill="#000" stroke="#000" stroke-width="0.2" textLength="33" lengthAdjust="spacing">34418.0</text>
<text x="1647" y="161" font-size="9.8" fill="#000" stroke="#000" stroke-width="0.2" textLength="33" lengthAdjust="spacing">34299.0</text>
<text x="1647" y="194" font-size="9.8" fill="#000" stroke="#000" stroke-width="0.2" textLength="33" lengthAdjust="spacing">34180.0</text>
<text x="1647" y="227" font-size="9.8" fill="#000" stroke="#000" stroke-width="0.2" textLength="33" lengthAdjust="spacing">34061.0</text>
<text x="1647" y="260" font-size="9.8" fill="#000" stroke="#000" stroke-width="0.2" textLength="33" lengthAdjust="spacing">33945.5</text>
<text x="1647" y="293" font-size="9.8" fill="#000" stroke="#000" stroke-width="0.2" textLength="33" lengthAdjust="spacing">33826.5</text>
<text x="1647" y="326" font-size="9.8" fill="#000" stroke="#000" stroke-width="0.2" textLength="33" lengthAdjust="spacing">33707.5</text>
<text x="1647" y="359" font-size="9.8" fill="#000" stroke="#000" stroke-width="0.2" textLength="33" lengthAdjust="spacing">33588.5</text>
<text x="1647" y="392" font-size="9.8" fill="#000" stroke="#000" stroke-width="0.2" textLength="33" lengthAdjust="spacing">33469.5</text>
<text x="1647" y="425" font-size="9.8" fill="#000" stroke="#000" stroke-width="0.2" textLength="33" lengthAdjust="spacing">33350.5</text>
<text x="1647" y="458" font-size="9.8" fill="#000" stroke="#000" stroke-width="0.2" textLength="33" lengthAdjust="spacing">33235.0</text>
<text x="1647" y="491" font-size="9.8" fill="#000" stroke="#000" stroke-width="0.2" textLength="33" lengthAdjust="spacing">33116.0</text>
<text x="1647" y="524" font-size="9.8" fill="#000" stroke="#000" stroke-width="0.2" textLength="33" lengthAdjust="spacing">32997.0</text>
<text x="1647" y="557" font-size="9.8" fill="#000" stroke="#000" stroke-width="0.2" textLength="33" lengthAdjust="spacing">32878.0</text>
<text x="1647" y="590" font-size="9.8" fill="#000" stroke="#000" stroke-width="0.2" textLength="33" lengthAdjust="spacing">32759.0</text>
<text x="1647" y="623" font-size="9.8" fill="#000" stroke="#000" stroke-width="0.2" textLength="33" lengthAdjust="spacing">32643.5</text>
<text x="1647" y="340" font-size="9.8" fill="#fff" stroke="#fff" stroke-width="0.2" textLength="33" lengthAdjust="spacing">33655.0</text>
<text x="1647" y="375" font-size="9.8" fill="#fff" stroke="#fff" stroke-width="0.2" textLength="33" lengthAdjust="spacing">33528.3</text>
<text x="1647" y="414" font-size="9.8" fill="#fff" stroke="#fff" stroke-width="0.2" textLength="33" lengthAdjust="spacing">33392.5</text>
<text x="1647" y="435" font-size="9.8" fill="#fff" stroke="#fff" stroke-width="0.2" textLength="33" lengthAdjust="spacing">33313.0</text>
<text x="1647" y="470" font-size="9.8" fill="#fff" stroke="#fff" stroke-width="0.2" textLength="33" lengthAdjust="spacing">33188.1</text>
<text x="1647" y="505" font-size="9.8" fill="#fff" stroke="#fff" stroke-width="0.2" textLength="33" lengthAdjust="spacing">33066.8</text>
<text x="1644.7" y="635" font-size="9.8" fill="#000" stroke="#000" stroke-width="0.2" textLength="28.5" lengthAdjust="spacing">209.18</text>
<text x="1644.7" y="673" font-size="9.8" fill="#000" stroke="#000" stroke-width="0.2" textLength="18.5" lengthAdjust="spacing">0.00</text>
<text x="1644.7" y="728" font-size="9.8" fill="#000" stroke="#000" stroke-width="0.2" textLength="26.5" lengthAdjust="spacing">-298.2</text>
<text x="1644.4" y="744" font-size="9.8" fill="#000" stroke="#000" stroke-width="0.2" textLength="15.5" lengthAdjust="spacing">100</text>
<text x="1643.6" y="758" font-size="9.8" fill="#000" stroke="#000" stroke-width="0.2" textLength="10.5" lengthAdjust="spacing">80</text>
<text x="1643.6" y="788" font-size="9.8" fill="#000" stroke="#000" stroke-width="0.2" textLength="10.5" lengthAdjust="spacing">50</text>
<text x="1643.2" y="823" font-size="9.8" fill="#000" stroke="#000" stroke-width="0.2" textLength="10.5" lengthAdjust="spacing">15</text>
<text x="1644.2" y="832" font-size="9.8" fill="#000" stroke="#000" stroke-width="0.2" textLength="5.5" lengthAdjust="spacing">0</text>
<text x="4" y="848" font-size="9.8" fill="#000" stroke="#000" stroke-width="0.2" textLength="52" lengthAdjust="spacing">14 Dec 2022</text>
<text x="68" y="848" font-size="9.8" fill="#000" stroke="#000" stroke-width="0.2" textLength="55" lengthAdjust="spacing">14 Dec 16:00</text>
<text x="132" y="848" font-size="9.8" fill="#000" stroke="#000" stroke-width="0.2" textLength="55" lengthAdjust="spacing">15 Dec 08:00</text>
<text x="196" y="848" font-size="9.8" fill="#000" stroke="#000" stroke-width="0.2" textLength="55" lengthAdjust="spacing">16 Dec 00:00</text>
<text x="260" y="848" font-size="9.8" fill="#000" stroke="#000" stroke-width="0.2" textLength="55" lengthAdjust="spacing">16 Dec 16:00</text>
<text x="324" y="848" font-size="9.8" fill="#000" stroke="#000" stroke-width="0.2" textLength="55" lengthAdjust="spacing">19 Dec 04:00</text>
<text x="388" y="848" font-size="9.8" fill="#000" stroke="#000" stroke-width="0.2" textLength="55" lengthAdjust="spacing">19 Dec 20:00</text>
<text x="452" y="848" font-size="9.8" fill="#000" stroke="#000" stroke-width="0.2" textLength="55" lengthAdjust="spacing">20 Dec 12:00</text>
<text x="516" y="848" font-size="9.8" fill="#000" stroke="#000" stroke-width="0.2" textLength="55" lengthAdjust="spacing">21 Dec 04:00</text>
<text x="580" y="848" font-size="9.8" fill="#000" stroke="#000" stroke-width="0.2" textLength="55" lengthAdjust="spacing">21 Dec 20:00</text>
<text x="644" y="848" font-size="9.8" fill="#000" stroke="#000" stroke-width="0.2" textLength="55" lengthAdjust="spacing">22 Dec 12:00</text>
<text x="708" y="848" font-size="9.8" fill="#000" stroke="#000" stroke-width="0.2" textLength="55" lengthAdjust="spacing">23 Dec 04:00</text>
<text x="772" y="848" font-size="9.8" fill="#000" stroke="#000" stroke-width="0.2" textLength="55" lengthAdjust="spacing">23 Dec 20:00</text>
<text x="836" y="848" font-size="9.8" fill="#000" stroke="#000" stroke-width="0.2" textLength="55" lengthAdjust="spacing">27 Dec 08:00</text>
<text x="900" y="848" font-size="9.8" fill="#000" stroke="#000" stroke-width="0.2" textLength="55" lengthAdjust="spacing">28 Dec 00:00</text>
<text x="964" y="848" font-size="9.8" fill="#000" stroke="#000" stroke-width="0.2" textLength="55" lengthAdjust="spacing">28 Dec 16:00</text>
<text x="1028" y="848" font-size="9.8" fill="#000" stroke="#000" stroke-width="0.2" textLength="55" lengthAdjust="spacing">29 Dec 08:00</text>
<text x="1092" y="848" font-size="9.8" fill="#000" stroke="#000" stroke-width="0.2" textLength="55" lengthAdjust="spacing">30 Dec 00:00</text>
<text x="1156" y="848" font-size="9.8" fill="#000" stroke="#000" stroke-width="0.2" textLength="55" lengthAdjust="spacing">30 Dec 16:00</text>
<text x="1220" y="848" font-size="9.8" fill="#000" stroke="#000" stroke-width="0.2" textLength="49" lengthAdjust="spacing">3 Jan 04:00</text>
<text x="1284" y="848" font-size="9.8" fill="#000" stroke="#000" stroke-width="0.2" textLength="49" lengthAdjust="spacing">3 Jan 20:00</text>
<text x="1348" y="848" font-size="9.8" fill="#000" stroke="#000" stroke-width="0.2" textLength="49" lengthAdjust="spacing">4 Jan 12:00</text>
</svg>
</body></html>
